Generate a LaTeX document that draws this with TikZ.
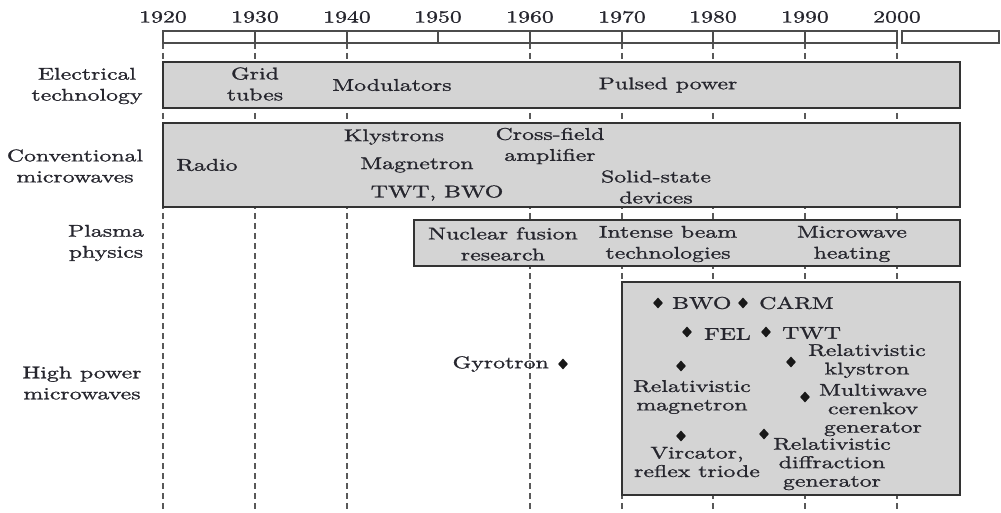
\documentclass[tikz,border=0pt]{standalone}
\usepackage{fontspec}
\setmainfont{lmroman10-regular.otf}[FakeStretch=1.4,FakeBold=1.2]
\usetikzlibrary{shapes.geometric}
\definecolor{boxfill}{HTML}{D4D4D4}
\definecolor{boxline}{HTML}{333333}
\definecolor{txt}{HTML}{26262E}
\tikzset{
  lbl/.style={text=txt, inner sep=0pt, align=center, font=\fontsize{17}{21}\selectfont},
  lbls/.style={text=txt, inner sep=0pt, align=center, font=\fontsize{17}{18.5}\selectfont},
  era/.style={draw=boxline, fill=boxfill, line width=1.5pt},
  guide/.style={draw=black!65, line width=1.1pt, dash pattern=on 6pt off 4pt},
  axisbar/.style={draw=black!70, line width=1.1pt},
  dot/.style={diamond, fill=black!90, inner sep=0pt, minimum width=10pt, minimum height=11pt}
}
\begin{document}
\begin{tikzpicture}[x=1pt,y=-1pt]
\useasboundingbox (0,0) rectangle (1001,513);
% guide lines
\foreach \x/\n in {163/a,255/b,347/c,530/d,622/e,713/f,805/g,897/h}{
  \coordinate (gt\n) at (\x,43);
  \coordinate (gb\n) at (\x,510);
  \draw[guide] (gt\n) -- (gb\n);
}
% axis bar
\draw[axisbar] (163,31) rectangle (897,43);
\draw[axisbar] (902,31) rectangle (999,43);
\foreach \x in {255,347,438,530,622,713,805}{
  \draw[axisbar] (\x,31) -- (\x,43);
}
% years
\foreach \x/\y in {163/1920,255/1930,347/1940,438/1950,530/1960,622/1970,713/1980,805/1990,897/2000}{
  \node[lbl] (y\y) at (\x,17) {\y};
}
% era boxes
\draw[era] (163,62) rectangle (960,108);
\draw[era] (163,123) rectangle (960,207);
\draw[era] (414,220) rectangle (960,266);
\draw[era] (622,282) rectangle (960,495);
% row labels
\node[lbl] (el) at (87,86) {Electrical\\technology};
\node[lbl] (cm) at (75,166) {Conventional\\microwaves};
\node[lbl] (pp) at (106,243) {Plasma\\physics};
\node[lbl] (hp) at (82,383) {High power\\microwaves};
% row 1
\node[lbl] (grid) at (255,84) {Grid\\tubes};
\node[lbl] (mod) at (392,85) {Modulators};
\node[lbl] (pul) at (668,85) {Pulsed power};
% row 2
\node[lbl] (radio) at (207,165) {Radio};
\node[lbl] (kly) at (394,137) {Klystrons};
\node[lbl] (mag) at (417,165) {Magnetron};
\node[lbl] (twt) at (437,193) {TWT, BWO};
\node[lbl] (cfa) at (550,146) {Cross-field\\amplifier};
\node[lbl] (ssd) at (656,187) {Solid-state\\devices};
% row 3
\node[lbl] (nfr) at (503,244) {Nuclear fusion\\research};
\node[lbl] (ibt) at (668,244) {Intense beam\\technologies};
\node[lbl] (mwh) at (852,244) {Microwave\\heating};
% row 4
\node[dot] (dgyr) at (563,364) {};
\node[lbl, anchor=east] (gyr) at (549,364) {Gyrotron};
\node[dot] (dbwo) at (658,303) {};
\node[lbl, anchor=west] (bwo) at (672,303) {BWO};
\node[dot] (dcarm) at (743,303) {};
\node[lbl, anchor=west] (carm) at (759,303) {CARM};
\node[dot] (dfel) at (687,332) {};
\node[lbl, anchor=west] (fel) at (704,334) {FEL};
\node[dot] (dtwt) at (766,332) {};
\node[lbl, anchor=west] (twt2) at (782,333) {TWT};
\node[dot] (drk) at (791,362) {};
\node[lbls] (rk) at (867,361) {Relativistic\\klystron};
\node[dot] (drm) at (681,366) {};
\node[lbls] (rm) at (692,397) {Relativistic\\magnetron};
\node[dot] (dmw) at (805,397) {};
\node[lbls] (mw) at (873,410) {Multiwave\\cerenkov\\generator};
\node[dot] (dvir) at (681,436) {};
\node[lbls] (vir) at (697,462) {Vircator,\\reflex triode};
\node[dot] (drd) at (764,434) {};
\node[lbls] (rd) at (832,464) {Relativistic\\diffraction\\generator};
\end{tikzpicture}
\end{document}
